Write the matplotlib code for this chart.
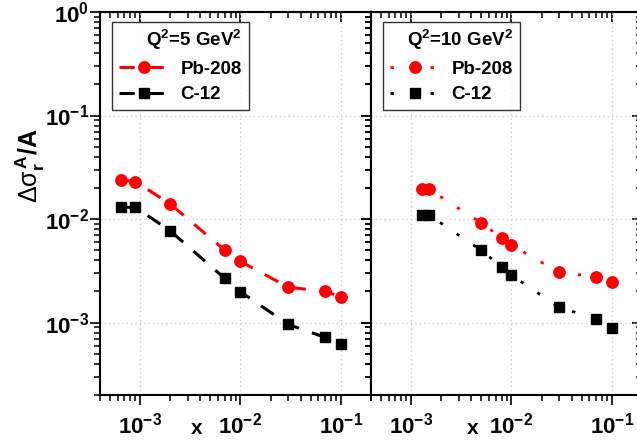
import numpy as np
import matplotlib
matplotlib.use('Agg')
from matplotlib import pyplot as plt
from matplotlib.ticker import FuncFormatter, NullFormatter

plt.rcParams['font.family'] = ['Liberation Sans', 'DejaVu Sans']
plt.rcParams['font.weight'] = 'bold'
plt.rcParams['mathtext.fontset'] = 'custom'
plt.rcParams['mathtext.rm'] = 'Liberation Sans:bold'
plt.rcParams['mathtext.bf'] = 'Liberation Sans:bold'
plt.rcParams['mathtext.it'] = 'Liberation Sans:bold:italic'
plt.rcParams['mathtext.sf'] = 'Liberation Sans:normal'

# data
x_q5 = [6.5e-4, 9e-4, 2e-3, 7e-3, 1e-2, 3e-2, 7e-2, 1e-1]
pb_q5 = [0.024, 0.023, 0.014, 0.0050, 0.0039, 0.0022, 0.0020, 0.00178]
c_q5 = [0.013, 0.013, 0.0077, 0.00267, 0.00199, 0.00096, 0.00072, 0.00062]

x_q10 = [1.3e-3, 1.5e-3, 5e-3, 8e-3, 1e-2, 3e-2, 7e-2, 1e-1]
pb_q10 = [0.0195, 0.0195, 0.0092, 0.0066, 0.0056, 0.00305, 0.00277, 0.00248]
c_q10 = [0.011, 0.011, 0.0050, 0.00346, 0.00288, 0.0014, 0.00109, 0.00089]

titles = [r'Q$^2$=5 GeV$^2$', r'Q$^2$=10 GeV$^2$']
labels = ['Pb-208', 'C-12']

W, H = 637, 440
fig = plt.figure(figsize=(W / 100, H / 100), dpi=100)

left, right0, top, bottom = 100, 371, 12, 395
pw = right0 - left
ax1 = fig.add_axes([left / W, 1 - bottom / H, pw / W, (bottom - top) / H])
ax2 = fig.add_axes([right0 / W, 1 - bottom / H, pw / W, (bottom - top) / H])

sci = FuncFormatter(lambda v, p: r'$\mathbf{10^{%d}}$' % int(round(np.log10(v))))

panels = [(ax1, x_q5, pb_q5, c_q5, (5, 4.5), 2.2, 0),
          (ax2, x_q10, pb_q10, c_q10, (1.2, 6), 2.0, 1)]

for ax, xs, pb, cc, dash, lw, i in panels:
    ax.set_xscale('log')
    ax.set_yscale('log')
    ax.set_xlim(4e-4, 0.2)
    ax.set_ylim(2e-4, 1)
    ax.plot(xs, pb, color='#ff0000', lw=lw, dashes=dash, marker='o', ms=8.2,
            label=labels[0], zorder=3)
    ax.plot(xs, cc, color='black', lw=lw, dashes=dash, marker='s', ms=7,
            label=labels[1], zorder=3)
    ax.grid(True, which='major', color='#c8c8c8', lw=0.9, ls=(0, (1, 2.5)))
    for s in ax.spines.values():
        s.set_linewidth(1.5)
    ax.tick_params(which='major', direction='out', length=7, width=1.2,
                   labelsize=16)
    ax.tick_params(axis='x', which='major', pad=6)
    ax.tick_params(axis='y', which='major', pad=1)
    ax.tick_params(which='minor', direction='out', length=4, width=1.1)
    ax.xaxis.set_major_formatter(sci)
    ax.xaxis.set_minor_formatter(NullFormatter())
    ax.yaxis.set_major_formatter(sci)
    ax.yaxis.set_minor_formatter(NullFormatter())

    # mirrored ticks pointing inward
    top_ax = ax.secondary_xaxis('top')
    right_ax = ax.secondary_yaxis('right')
    for sec, a in ((top_ax, 'x'), (right_ax, 'y')):
        sec.tick_params(axis=a, which='major', direction='in', length=7, width=1.2)
        sec.tick_params(axis=a, which='minor', direction='in', length=4, width=1.1)
        sec.tick_params(labeltop=False, labelright=False, labelbottom=False, labelleft=False)
        sec.spines[:].set_linewidth(1.5)

    leg = ax.legend(title=titles[i], loc='upper left', bbox_to_anchor=(0.045, 0.975),
                    fontsize=13.5, title_fontsize=13.5, frameon=True, fancybox=False,
                    edgecolor='black', handlelength=2.7, handletextpad=0.6,
                    borderpad=0.35, labelspacing=0.45, borderaxespad=0,
                    alignment='right')
    leg.get_frame().set_linewidth(1.0)

ax2.tick_params(axis='y', labelleft=False)

ax1.set_xlabel('x', fontsize=15, fontweight='bold')
ax1.xaxis.set_label_coords(0.358, -0.062)
ax2.set_xlabel('x', fontsize=15, fontweight='bold')
ax2.xaxis.set_label_coords(0.376, -0.062)

fig.text(30 / W, 1 - 166 / H, r'$\mathsf{\Delta\sigma}_\mathbf{r}^{\,\mathbf{A}}$/A',
         rotation=90, fontsize=18, ha='center', va='center')

fig.savefig('out.png', dpi=100)
